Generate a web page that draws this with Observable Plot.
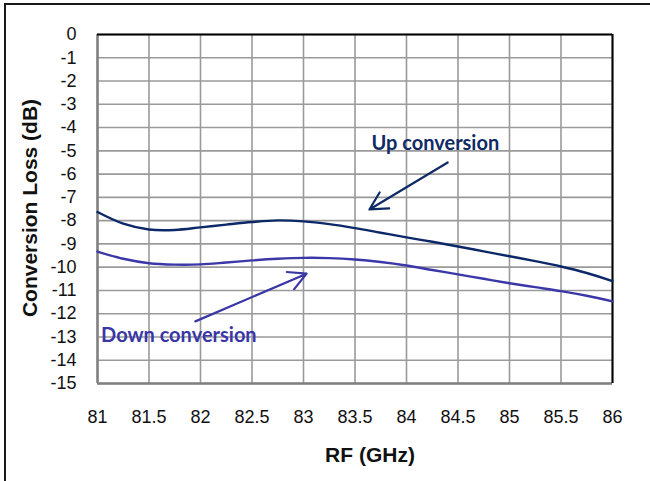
<!DOCTYPE html>
<html>
<head>
<meta charset="utf-8">
<script src="https://cdn.jsdelivr.net/npm/d3@7"></script>
<script src="https://cdn.jsdelivr.net/npm/@observablehq/plot@0.6"></script>
<style>
  html, body { margin: 0; padding: 0; background: #fff; overflow: hidden; }
  #wrap { position: relative; width: 650px; height: 481px; }
  #frame { position: absolute; left: 4px; top: 3px; width: 700px; height: 600px;
           border-top: 2px solid #1a1a1a; border-left: 2px solid #1a1a1a; pointer-events: none; }
  #chart { position: absolute; left: 0; top: 0; }
  #chart svg { font-family: "Liberation Sans", Arial, sans-serif; font-size: 18px; color: #111; }
</style>
</head>
<body>
<div id="wrap"><div id="chart"></div><div id="frame"></div></div>
<script>
// RF frequency (GHz)
const freq = [81, 81.25, 81.5, 81.75, 82, 82.25, 82.5, 82.75, 83, 83.25, 83.5, 83.75, 84, 84.25, 84.5, 84.75, 85, 85.25, 85.5, 85.75, 86];
// Up conversion loss (dB)
const upLoss = [-7.63, -8.13, -8.38, -8.40, -8.29, -8.17, -8.06, -7.99, -8.03, -8.15, -8.32, -8.52, -8.72, -8.91, -9.11, -9.32, -9.53, -9.74, -9.97, -10.25, -10.6];
// Down conversion loss (dB)
const downLoss = [-9.33, -9.64, -9.83, -9.89, -9.88, -9.80, -9.71, -9.64, -9.60, -9.61, -9.67, -9.78, -9.93, -10.12, -10.31, -10.50, -10.69, -10.86, -11.03, -11.23, -11.47];

const xTicks = [81, 81.5, 82, 82.5, 83, 83.5, 84, 84.5, 85, 85.5, 86];
const yTicks = [0, -1, -2, -3, -4, -5, -6, -7, -8, -9, -10, -11, -12, -13, -14, -15];

// Annotations
const annotations = [
  {label: "Up conversion", x: 84.28, y: -4.68, x1: 84.40, y1: -5.50, x2: 83.64, y2: -7.52, color: "#102a66"},
  {label: "Down conversion", x: 81.79, y: -12.93, x1: 81.95, y1: -12.33, x2: 83.03, y2: -10.28, color: "#3a36a6"}
];

const upData = freq.map((f, i) => ({f, v: upLoss[i]}));
const downData = freq.map((f, i) => ({f, v: downLoss[i]}));

const gridColor = "#9a9a9a";
const sans = "Liberation Sans, Arial, sans-serif";

const chart = Plot.plot({
  width: 650,
  height: 481,
  marginLeft: 97,
  marginRight: 38,
  marginTop: 34,
  marginBottom: 98,
  x: {domain: [81, 86]},
  y: {domain: [-15, 0]},
  marks: [
    Plot.gridX(xTicks, {stroke: gridColor, strokeOpacity: 1, strokeWidth: 1.6}),
    Plot.gridY(yTicks, {stroke: gridColor, strokeOpacity: 1, strokeWidth: 1.6}),
    Plot.ruleY([-15], {stroke: "#808080", strokeWidth: 2.5}),
    Plot.ruleX([81], {stroke: "#808080", strokeWidth: 2.5}),
    Plot.ruleY([0], {stroke: "#000", strokeWidth: 2}),
    Plot.ruleX([86], {stroke: "#000", strokeWidth: 2}),
    Plot.axisX(xTicks, {tickSize: 0, tickPadding: 27, tickFormat: d => String(d), label: null, fontSize: 18, fontFamily: sans, fill: "#111"}),
    Plot.axisY(yTicks, {tickSize: 0, tickPadding: 21, tickFormat: d => String(d), label: null, fontSize: 18, fontFamily: sans, fill: "#111"}),
    Plot.text(["RF (GHz)"], {frameAnchor: "bottom", dx: 15, dy: 78, fontWeight: "bold", fontSize: 21, fontFamily: sans, fill: "#111"}),
    Plot.text(["Conversion Loss (dB)"], {frameAnchor: "left", textAnchor: "middle", dx: -67, dy: -1, rotate: -90, fontWeight: "bold", fontSize: 21, fontFamily: sans, fill: "#111"}),
    Plot.line(downData, {x: "f", y: "v", stroke: "#3b37a8", strokeWidth: 2.4, curve: "catmull-rom"}),
    Plot.line(upData, {x: "f", y: "v", stroke: "#0d2868", strokeWidth: 2.4, curve: "catmull-rom"}),
    Plot.arrow(annotations, {x1: "x1", y1: "y1", x2: "x2", y2: "y2", stroke: "color", strokeWidth: 2.2, headLength: 13.5, headAngle: 56, bend: 0}),
    Plot.text(annotations, {x: "x", y: "y", text: "label", fill: "color", fontWeight: "bold", fontSize: 20, fontFamily: "Lato, Open Sans, sans-serif"})
  ]
});
document.getElementById("chart").appendChild(chart);
</script>
</body>
</html>
